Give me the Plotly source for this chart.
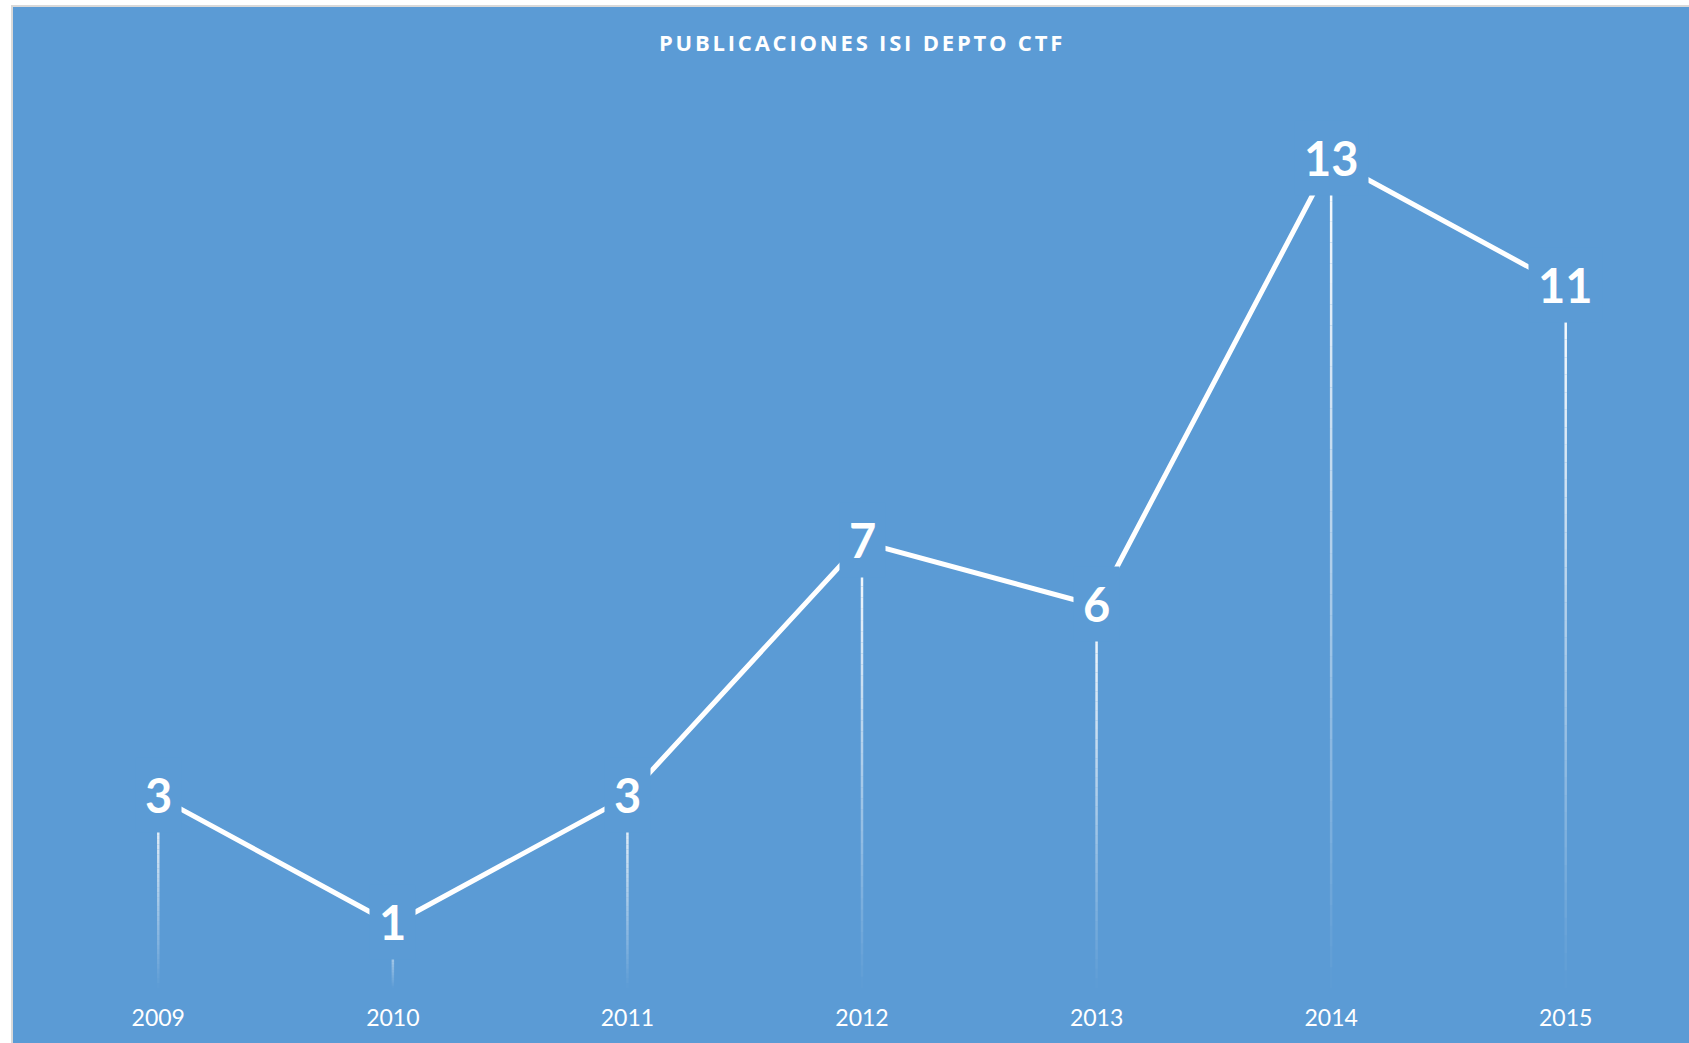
import plotly.graph_objects as go

# ---- data ----
years = ["2009", "2010", "2011", "2012", "2013", "2014", "2015"]
publications = [3, 1, 3, 7, 6, 13, 11]
title_text = "PUBLICACIONES ISI DEPTO CTF"

# ---- style ----
BLUE = "#5B9BD5"
WHITE = "#FFFFFF"
W, H = 1689, 1043
ML, MR, MT, MB = 41, 6, 96, 55
YMAX = 14

xpos = list(range(len(years)))

fig = go.Figure()

fig.add_trace(go.Scatter(
    x=xpos, y=publications, mode="lines",
    line=dict(color=WHITE, width=5),
    hoverinfo="skip", showlegend=False,
))

shapes = []
# chart area background with thin grey border
pw = W - ML - MR
ph = H - MT - MB
shapes.append(dict(
    type="rect", xref="paper", yref="paper", layer="below",
    x0=(12 - ML) / pw, x1=(W + 20 - ML) / pw,
    y0=-(H + 20 - (H - MB)) / ph, y1=((H - MB) - 6) / ph,
    fillcolor=BLUE, line=dict(color="#D9D9D9", width=2),
))

# fading drop lines from each point down to zero
N = 40
for xi, v in zip(xpos, publications):
    for k in range(N):
        top = v * (1 - k / N)
        bot = v * (1 - (k + 1) / N)
        shapes.append(dict(
            type="line", xref="x", yref="y", layer="above",
            x0=xi, x1=xi, y0=bot, y1=top,
            line=dict(color=WHITE, width=2.5),
            opacity=max(0.0, 1 - (k + 0.5) / N),
        ))

annotations = []
for xi, v in zip(xpos, publications):
    annotations.append(dict(
        x=xi, y=v, xref="x", yref="y", text="<b>" + str(v) + "</b>",
        showarrow=False, xanchor="center", yanchor="middle",
        font=dict(family="Lato", size=47, color=WHITE),
        bgcolor=BLUE, borderpad=9, yshift=2,
    ))

fig.update_layout(
    width=W, height=H, autosize=False,
    margin=dict(l=ML, r=MR, t=MT, b=MB, pad=0),
    paper_bgcolor=WHITE,
    plot_bgcolor="rgba(0,0,0,0)",
    shapes=shapes,
    annotations=annotations,
    title=dict(
        text='<span style="letter-spacing:2.8px"><b>' + title_text + '</b></span>',
        x=0.5, xref="paper", xanchor="center",
        y=1 - 43 / H, yref="container", yanchor="middle",
        font=dict(family="Open Sans", size=22, color=WHITE),
    ),
    xaxis=dict(
        range=[-0.5, len(years) - 0.5],
        tickmode="array", tickvals=xpos, ticktext=years,
        showgrid=False, zeroline=False, showline=False, ticks="",
        tickfont=dict(family="Lato", size=23, color=WHITE),
        ticklabelstandoff=14,
        fixedrange=True,
    ),
    yaxis=dict(range=[0, YMAX], visible=False, fixedrange=True),
    showlegend=False,
)

fig.write_html("out.html", config={"displayModeBar": False},
               post_script="document.body.style.margin='0';")
